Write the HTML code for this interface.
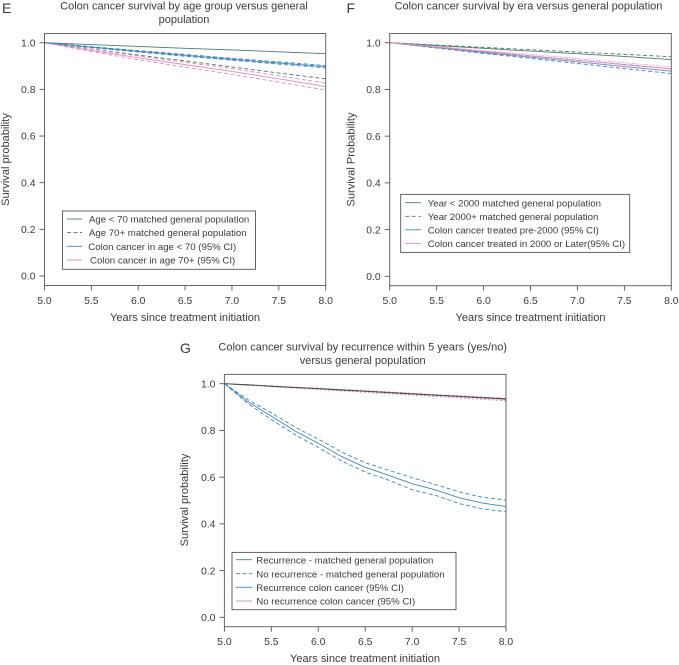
<!DOCTYPE html>
<html>
<head>
<meta charset="utf-8">
<title>Colon cancer survival charts</title>
<style>
html,body{margin:0;padding:0;background:#fff;}
svg{display:block;}
text{font-family:"Liberation Sans",Arial,sans-serif;fill:#3a3a3a;}
.title{font-size:11px;text-anchor:middle;}
.letter{font-size:14px;}
.axt{font-size:11.05px;text-anchor:middle;}
.leg{font-size:9.65px;}
.tick{font-size:10.4px;}
</style>
</head>
<body>
<svg id="chart" xmlns="http://www.w3.org/2000/svg" width="679" height="665" viewBox="0 0 679 665">
  <g>
    <text class="letter" x="2" y="13">E</text>
    <text class="title" x="184" y="9.5">Colon cancer survival by age group versus general</text>
    <text class="title" x="184" y="23">population</text>
    <text class="axt" x="185" y="321">Years since treatment initiation</text>
    <text class="axt" transform="translate(9,159.5) rotate(-90)">Survival probability</text>
  </g>
  <g>
    <text class="letter" x="346.5" y="13">F</text>
    <text class="title" x="528.5" y="9.5">Colon cancer survival by era versus general population</text>
    <text class="axt" x="530.5" y="321">Years since treatment initiation</text>
    <text class="axt" transform="translate(354.5,159.5) rotate(-90)">Survival Probability</text>
  </g>
  <g>
    <text class="letter" x="180" y="353">G</text>
    <text class="title" x="362.7" y="350.7">Colon cancer survival by recurrence within 5 years (yes/no)</text>
    <text class="title" x="362.7" y="364">versus general population</text>
    <text class="axt" x="365" y="662">Years since treatment initiation</text>
    <text class="axt" transform="translate(188,500) rotate(-90)">Survival probability</text>
  </g>
  <g id="marks"></g>
  <g>
    <rect x="62.5" y="211" width="193" height="58.3" fill="#fff" stroke="#555" stroke-width="0.9"/>
    <line x1="67" x2="82" y1="219" y2="219" stroke="#4d7a68" stroke-width="0.9"/>
    <line x1="67" x2="82" y1="232.6" y2="232.6" stroke="#4d7a68" stroke-width="0.9" stroke-dasharray="4 2.5"/>
    <line x1="67" x2="82" y1="246.3" y2="246.3" stroke="#3f86bd" stroke-width="0.9"/>
    <line x1="67" x2="82" y1="260" y2="260" stroke="#d98abb" stroke-width="0.9"/>
    <text class="leg" x="89" y="222.6">Age &lt; 70 matched general population</text>
    <text class="leg" x="89" y="236.2">Age 70+ matched general population</text>
    <text class="leg" x="88.3" y="249.9">Colon cancer in age &lt; 70 (95% CI)</text>
    <text class="leg" x="90" y="263.5">Colon cancer in age 70+ (95% CI)</text>
  </g>
  <g>
    <rect x="400.7" y="194.4" width="229" height="58" fill="#fff" stroke="#555" stroke-width="0.9"/>
    <line x1="405.3" x2="421" y1="202.7" y2="202.7" stroke="#4d7a68" stroke-width="0.9"/>
    <line x1="405.3" x2="421" y1="216.3" y2="216.3" stroke="#4d7a68" stroke-width="0.9" stroke-dasharray="4 2.5"/>
    <line x1="405.3" x2="421" y1="229.8" y2="229.8" stroke="#3f86bd" stroke-width="0.9"/>
    <line x1="405.3" x2="421" y1="243.4" y2="243.4" stroke="#d98abb" stroke-width="0.9"/>
    <text class="leg" x="427.7" y="206.3">Year &lt; 2000 matched general population</text>
    <text class="leg" x="427.7" y="219.9">Year 2000+ matched general population</text>
    <text class="leg" x="427.7" y="233.4">Colon cancer treated pre-2000 (95% CI)</text>
    <text class="leg" x="427.7" y="247">Colon cancer treated in 2000 or Later(95% CI)</text>
  </g>
  <g>
    <rect x="232" y="552.4" width="224" height="57.3" fill="#fff" stroke="#555" stroke-width="0.9"/>
    <line x1="236" x2="252" y1="559.7" y2="559.7" stroke="#4d7a68" stroke-width="0.9"/>
    <line x1="236" x2="252" y1="573.7" y2="573.7" stroke="#4d7a68" stroke-width="0.9" stroke-dasharray="4 2.5"/>
    <line x1="236" x2="252" y1="587.3" y2="587.3" stroke="#3f86bd" stroke-width="0.9"/>
    <line x1="236" x2="252" y1="601" y2="601" stroke="#d98abb" stroke-width="0.9"/>
    <text class="leg" x="256.3" y="563.3">Recurrence - matched general population</text>
    <text class="leg" x="256.3" y="577.3">No recurrence - matched general population</text>
    <text class="leg" x="256.3" y="590.9">Recurrence colon cancer (95% CI)</text>
    <text class="leg" x="256.3" y="604.6">No recurrence colon cancer (95% CI)</text>
  </g>
</svg>
<script>
/* shared axis data */
const xTickValues = [5.0, 5.5, 6.0, 6.5, 7.0, 7.5, 8.0];
const yTickValues = [0.0, 0.2, 0.4, 0.6, 0.8, 1.0];

/* panel E values */
const eYears = [5.0, 5.5, 6.0, 6.5, 7.0, 7.5, 8.0];
const eGenUnder70 = [1.0, 0.992, 0.984, 0.976, 0.969, 0.961, 0.953];
const eGen70Plus = [1.0, 0.973, 0.947, 0.922, 0.896, 0.870, 0.845];
const eCrcUnder70 = [1.0, 0.981, 0.963, 0.946, 0.929, 0.913, 0.897];
const eCrcUnder70Low = [1.0, 0.979, 0.960, 0.942, 0.925, 0.908, 0.892];
const eCrcUnder70High = [1.0, 0.983, 0.966, 0.950, 0.933, 0.918, 0.902];
const eCrc70Plus = [1.0, 0.967, 0.935, 0.906, 0.877, 0.845, 0.812];
const eCrc70PlusLow = [1.0, 0.962, 0.927, 0.895, 0.864, 0.831, 0.797];
const eCrc70PlusHigh = [1.0, 0.972, 0.943, 0.916, 0.889, 0.858, 0.827];

/* panel F values */
const fYears = [5.0, 5.5, 6.0, 6.5, 7.0, 7.5, 8.0];
const fGenPre2000 = [1.0, 0.988, 0.976, 0.964, 0.953, 0.941, 0.928];
const fGen2000Plus = [1.0, 0.990, 0.980, 0.970, 0.960, 0.950, 0.940];
const fCrcPre2000 = [1.0, 0.979, 0.958, 0.938, 0.918, 0.898, 0.878];
const fCrcPre2000Low = [1.0, 0.977, 0.954, 0.933, 0.911, 0.889, 0.868];
const fCrcPre2000High = [1.0, 0.981, 0.962, 0.943, 0.925, 0.907, 0.888];
const fCrc2000Plus = [1.0, 0.982, 0.963, 0.944, 0.925, 0.906, 0.888];
const fCrc2000PlusLow = [1.0, 0.980, 0.960, 0.939, 0.918, 0.898, 0.878];
const fCrc2000PlusHigh = [1.0, 0.984, 0.966, 0.949, 0.932, 0.914, 0.897];

/* panel G values */
const gYears = [5.0, 5.25, 5.5, 5.75, 6.0, 6.25, 6.5, 6.75, 7.0, 7.25, 7.5, 7.75, 8.0];
const gGenRecurrence = [1.0, 0.995, 0.989, 0.984, 0.979, 0.973, 0.968, 0.962, 0.957, 0.951, 0.946, 0.940, 0.935];
const gGenNoRecurrence = [1.0, 0.995, 0.990, 0.984, 0.979, 0.974, 0.968, 0.963, 0.957, 0.952, 0.946, 0.941, 0.936];
const gCrcRecurrence = [1.0, 0.923, 0.861, 0.798, 0.745, 0.688, 0.642, 0.608, 0.572, 0.545, 0.512, 0.489, 0.474];
const gCrcRecurrenceLow = [1.0, 0.915, 0.847, 0.782, 0.727, 0.669, 0.622, 0.587, 0.546, 0.522, 0.487, 0.464, 0.452];
const gCrcRecurrenceHigh = [1.0, 0.932, 0.875, 0.815, 0.763, 0.707, 0.662, 0.629, 0.598, 0.568, 0.537, 0.514, 0.502];
const gCrcNoRecurrence = [1.0, 0.995, 0.989, 0.983, 0.978, 0.972, 0.967, 0.961, 0.955, 0.949, 0.944, 0.938, 0.932];
const gCrcNoRecurrenceLow = [1.0, 0.994, 0.987, 0.981, 0.975, 0.969, 0.963, 0.957, 0.951, 0.945, 0.939, 0.933, 0.927];
const gCrcNoRecurrenceHigh = [1.0, 0.996, 0.991, 0.985, 0.981, 0.975, 0.971, 0.965, 0.959, 0.953, 0.949, 0.943, 0.937];

const NS = 'http://www.w3.org/2000/svg';
const host = document.getElementById('marks');
const GREEN = '#4d7a68', BLUE = '#3f86bd', PINK = '#dc8dbe', DARK = '#3d4a45';

function mk(tag, parent, props) {
  const el = document.createElementNS(NS, tag);
  for (const k in props) el.setAttribute(k, props[k]);
  parent.appendChild(el);
  return el;
}

function drawPanel(box, years, series, key) {
  const xScale = v => box.left + (v - 5) / 3 * (box.right - box.left);
  const yScale = v => box.y0 + (box.y1 - box.y0) * v;

  const g = mk('g', host, {});
  
  

  series.forEach(s => {
    const pts = years.map((t, i) => xScale(t).toFixed(2) + ',' + yScale(s.values[i]).toFixed(2)).join(' ');
    const line = mk('polyline', g, {
      points: pts, fill: 'none', stroke: s.color,
      'stroke-width': s.width || 0.9
    });
    if (s.dash) line.setAttribute('stroke-dasharray', s.dash);
    
    
  });

  const frame = mk('rect', g, {
    x: box.left, y: box.top, width: box.right - box.left, height: box.bottom - box.top,
    fill: 'none', stroke: '#666', 'stroke-width': 1
  });
  
  

  xTickValues.forEach(v => {
    const tick = mk('line', g, {
      x1: xScale(v), x2: xScale(v), y1: box.bottom, y2: box.bottom + 5,
      stroke: '#555', 'stroke-width': 0.9
    });
    
    
    const label = mk('text', g, {
      x: xScale(v), y: box.bottom + 18.5, 'text-anchor': 'middle', class: 'tick'
    });
    label.textContent = v.toFixed(1);
    
    
  });

  yTickValues.forEach(v => {
    const tick = mk('line', g, {
      x1: box.left - 5, x2: box.left, y1: yScale(v), y2: yScale(v),
      stroke: '#555', 'stroke-width': 0.9
    });
    
    
    const label = mk('text', g, {
      x: box.left - 9, y: yScale(v) + 3.7, 'text-anchor': 'end', class: 'tick'
    });
    label.textContent = v.toFixed(1);
    
    
  });
}

drawPanel({left: 44.5, right: 325.7, top: 33.5, bottom: 285.5, y0: 276, y1: 42.7}, eYears, [
  {name: 'gen-under-70', values: eGenUnder70, color: GREEN},
  {name: 'gen-70-plus', values: eGen70Plus, color: GREEN, dash: '4 2.5'},
  {name: 'crc-70-plus', values: eCrc70Plus, color: PINK},
  {name: 'crc-70-plus-low', values: eCrc70PlusLow, color: PINK, dash: '4 2.5'},
  {name: 'crc-70-plus-high', values: eCrc70PlusHigh, color: PINK, dash: '4 2.5'},
  {name: 'crc-under-70', values: eCrcUnder70, color: BLUE},
  {name: 'crc-under-70-low', values: eCrcUnder70Low, color: BLUE, dash: '4 2.5'},
  {name: 'crc-under-70-high', values: eCrcUnder70High, color: BLUE, dash: '4 2.5'}
], 'panel-e');

drawPanel({left: 389.7, right: 671.3, top: 33.5, bottom: 285.7, y0: 276.3, y1: 42.7}, fYears, [
  {name: 'gen-pre-2000', values: fGenPre2000, color: GREEN},
  {name: 'gen-2000-plus', values: fGen2000Plus, color: GREEN, dash: '4 2.5'},
  {name: 'crc-pre-2000', values: fCrcPre2000, color: BLUE},
  {name: 'crc-pre-2000-low', values: fCrcPre2000Low, color: BLUE, dash: '4 2.5'},
  {name: 'crc-pre-2000-high', values: fCrcPre2000High, color: BLUE, dash: '4 2.5'},
  {name: 'crc-2000-plus', values: fCrc2000Plus, color: PINK},
  {name: 'crc-2000-plus-low', values: fCrc2000PlusLow, color: PINK, dash: '1.5 1.5'},
  {name: 'crc-2000-plus-high', values: fCrc2000PlusHigh, color: PINK, dash: '1.5 1.5'}
], 'panel-f');

drawPanel({left: 224.4, right: 506, top: 374.4, bottom: 626.7, y0: 617.3, y1: 383.7}, gYears, [
  {name: 'crc-no-recurrence', values: gCrcNoRecurrence, color: PINK},
  {name: 'crc-no-recurrence-low', values: gCrcNoRecurrenceLow, color: PINK, dash: '2 2'},
  {name: 'crc-no-recurrence-high', values: gCrcNoRecurrenceHigh, color: PINK, dash: '2 2'},
  {name: 'gen-no-recurrence', values: gGenNoRecurrence, color: GREEN, dash: '4 2.5'},
  {name: 'gen-recurrence', values: gGenRecurrence, color: DARK},
  {name: 'crc-recurrence', values: gCrcRecurrence, color: BLUE},
  {name: 'crc-recurrence-low', values: gCrcRecurrenceLow, color: BLUE, dash: '4 2.5'},
  {name: 'crc-recurrence-high', values: gCrcRecurrenceHigh, color: BLUE, dash: '4 2.5'}
], 'panel-g');
</script>
</body>
</html>
